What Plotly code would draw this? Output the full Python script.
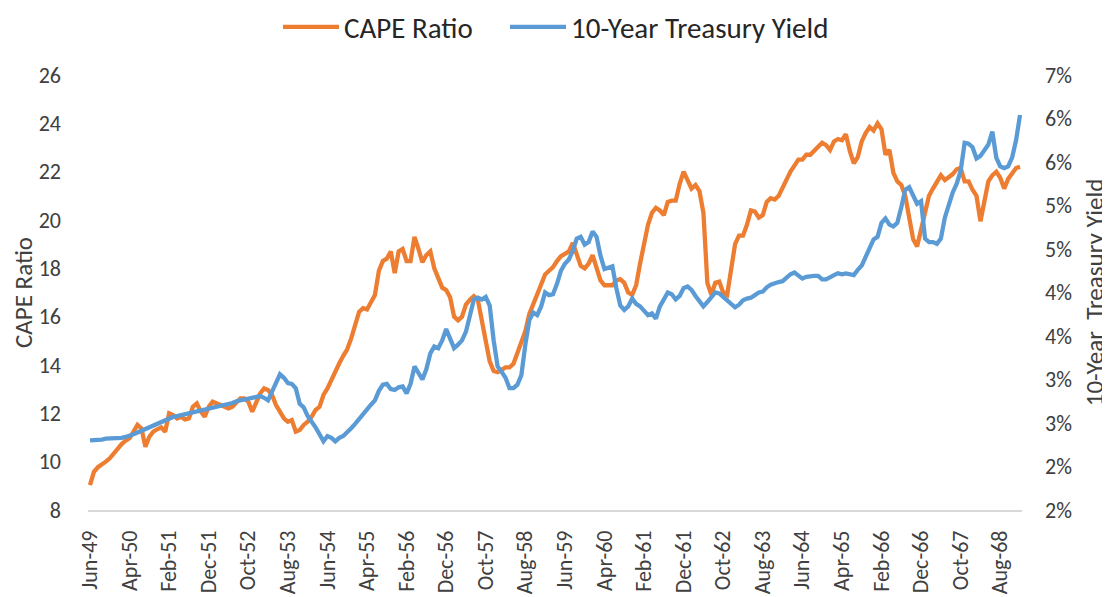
import pandas as pd
import plotly.graph_objects as go

# Monthly observations, Jun-1949 .. Jan-1969
start_month = "1949-06"
n_months = 236

cape_ratio = [
    9.03, 9.58, 9.77, 9.86, 10.00, 10.14, 10.34, 10.55, 10.73, 10.87,
    10.97, 11.24, 11.52, 11.38, 10.62, 11.03, 11.24, 11.34, 11.42, 11.24,
    12.00, 11.93, 11.79, 11.86, 11.75, 11.79, 12.27, 12.41, 12.07, 11.86,
    12.27, 12.48, 12.41, 12.34, 12.27, 12.20, 12.27, 12.48, 12.62, 12.62,
    12.48, 12.07, 12.48, 12.83, 13.03, 12.96, 12.76, 12.34, 12.07, 11.79,
    11.65, 11.72, 11.24, 11.31, 11.52, 11.65, 11.86, 12.14, 12.27, 12.76,
    13.03, 13.38, 13.79, 14.07, 14.38, 14.65, 15.10, 15.70, 16.20, 16.35,
    16.30, 16.60, 16.90, 17.90, 18.30, 18.40, 18.70, 17.80, 18.70, 18.80,
    18.30, 18.30, 19.30, 18.80, 18.25, 18.55, 18.70, 18.00, 17.60, 17.20,
    17.10, 16.80, 16.00, 15.85, 16.00, 16.50, 16.70, 16.85, 16.70, 15.80,
    15.00, 14.15, 13.75, 13.70, 13.80, 13.90, 13.90, 14.05, 14.50, 14.95,
    15.40, 16.10, 16.50, 16.90, 17.30, 17.75, 17.90, 18.05, 18.30, 18.50,
    18.60, 18.70, 19.05, 18.50, 18.10, 18.00, 18.20, 18.55, 18.00, 17.50,
    17.30, 17.30, 17.30, 17.50, 17.55, 17.40, 17.00, 16.90, 17.30, 18.20,
    19.00, 19.80, 20.30, 20.50, 20.40, 20.20, 20.75, 20.80, 20.80, 21.50,
    22.00, 21.60, 21.30, 21.45, 21.20, 20.30, 17.40, 16.90, 17.40, 17.45,
    17.00, 16.90, 17.90, 19.00, 19.35, 19.35, 19.80, 20.40, 20.35, 20.10,
    20.20, 20.75, 20.90, 20.85, 21.00, 21.35, 21.70, 22.00, 22.25, 22.50,
    22.50, 22.70, 22.70, 22.85, 23.05, 23.20, 23.10, 22.90, 23.25, 23.35,
    23.30, 23.55, 22.85, 22.35, 22.60, 23.25, 23.60, 23.85, 23.70, 24.00,
    23.75, 22.70, 22.90, 21.95, 21.60, 21.45, 21.00, 20.00, 19.20, 18.90,
    19.60, 20.30, 21.00, 21.30, 21.60, 21.85, 21.65, 21.75, 21.90, 22.10,
    22.15, 21.60, 21.60, 21.25, 21.00, 19.95, 20.80, 21.60, 21.85, 22.00,
    21.75, 21.30, 21.70, 21.95, 22.15, 22.20,
]

treasury_yield = [
    2.30, 2.30, 2.30, 2.31, 2.32, 2.32, 2.32, 2.32, 2.33, 2.34,
    2.35, 2.37, 2.39, 2.41, 2.43, 2.45, 2.47, 2.49, 2.51, 2.53,
    2.56, 2.57, 2.58, 2.59, 2.61, 2.62, 2.63, 2.64, 2.65, 2.66,
    2.67, 2.68, 2.69, 2.69, 2.70, 2.71, 2.73, 2.75, 2.76, 2.77,
    2.78, 2.79, 2.80, 2.81, 2.79, 2.76, 2.86, 2.97, 3.06, 3.02,
    2.96, 2.95, 2.90, 2.72, 2.68, 2.58, 2.52, 2.45, 2.37, 2.29,
    2.35, 2.33, 2.29, 2.33, 2.35, 2.39, 2.44, 2.49, 2.55, 2.61,
    2.66, 2.71, 2.76, 2.87, 2.94, 2.95, 2.89, 2.88, 2.91, 2.92,
    2.84, 2.95, 3.15, 3.07, 3.00, 3.12, 3.30, 3.38, 3.36, 3.45,
    3.58, 3.47, 3.36, 3.40, 3.45, 3.55, 3.75, 3.92, 3.94, 3.92,
    3.95, 3.85, 3.45, 3.15, 3.09, 3.02, 2.90, 2.90, 2.94, 3.05,
    3.40, 3.68, 3.77, 3.74, 3.84, 4.00, 3.97, 3.98, 4.10, 4.25,
    4.33, 4.38, 4.48, 4.62, 4.64, 4.55, 4.58, 4.70, 4.64, 4.42,
    4.27, 4.28, 4.30, 4.05, 3.85, 3.80, 3.84, 3.93, 3.87, 3.84,
    3.79, 3.74, 3.76, 3.70, 3.84, 3.91, 4.00, 3.98, 3.92, 3.96,
    4.05, 4.07, 4.03, 3.96, 3.90, 3.84, 3.89, 3.95, 4.00, 3.99,
    3.95, 3.91, 3.87, 3.83, 3.86, 3.91, 3.93, 3.94, 3.97, 4.00,
    4.01, 4.06, 4.09, 4.11, 4.12, 4.13, 4.17, 4.21, 4.23, 4.19,
    4.16, 4.18, 4.19, 4.19, 4.19, 4.15, 4.15, 4.18, 4.20, 4.22,
    4.21, 4.22, 4.21, 4.20, 4.26, 4.31, 4.41, 4.50, 4.61, 4.64,
    4.80, 4.85, 4.78, 4.76, 4.80, 4.98, 5.18, 5.21, 5.10, 5.02,
    5.05, 4.62, 4.58, 4.58, 4.56, 4.62, 4.86, 5.00, 5.15, 5.25,
    5.40, 5.72, 5.71, 5.67, 5.54, 5.57, 5.64, 5.70, 5.85, 5.55,
    5.45, 5.43, 5.45, 5.55, 5.75, 6.04,
]

if len(cape_ratio) != n_months or len(treasury_yield) != n_months:
    raise ValueError(f"lengths {len(cape_ratio)} {len(treasury_yield)}")

months = pd.period_range(start=start_month, periods=n_months, freq="M").strftime("%b-%y").tolist()
x_tick_labels = months[::10]

left_ticks = [8, 10, 12, 14, 16, 18, 20, 22, 24, 26]
right_ticks = [1.5, 2.0, 2.5, 3.0, 3.5, 4.0, 4.5, 5.0, 5.5, 6.0, 6.5]
right_tick_text = [f"{int(v + 0.5)}%" for v in right_ticks]

ORANGE = "#ED7D31"
BLUE = "#5B9BD5"
FONT = "Carlito, Calibri, 'Liberation Sans Narrow', 'Liberation Sans', sans-serif"
TXT = "#404040"

# The page body adds an 8px offset, so the figure is 8px smaller than the window.
W, H = 1102, 589

fig = go.Figure()
fig.add_trace(go.Scatter(x=months, y=cape_ratio, name="CAPE Ratio", mode="lines",
                         line=dict(color=ORANGE, width=4.3), legendwidth=156))
fig.add_trace(go.Scatter(x=months, y=treasury_yield, name="10-Year Treasury Yield", mode="lines",
                         line=dict(color=BLUE, width=4.3), yaxis="y2"))

fig.update_layout(
    width=W, height=H,
    margin=dict(l=80, r=88, t=67, b=87, autoexpand=False),
    paper_bgcolor="white", plot_bgcolor="white",
    font=dict(family=FONT, color=TXT, size=22),
    showlegend=True,
    legend=dict(orientation="h", xref="container", yref="container",
                x=270 / W, xanchor="left", y=1 - 19 / H, yanchor="middle",
                font=dict(size=29, color="#262626"), itemwidth=56, traceorder="normal",
                bgcolor="rgba(0,0,0,0)"),
    xaxis=dict(type="category", range=[-0.5, n_months - 0.5], automargin=False,
               tickmode="array", tickvals=x_tick_labels, ticktext=x_tick_labels,
               tickangle=-90, tickfont=dict(size=22, color=TXT),
               showgrid=False, zeroline=False, showline=True, linecolor="#D9D9D9", linewidth=1.5,
               ticks="", ticklabelstandoff=10),
    yaxis=dict(range=[8, 26], tickmode="array", tickvals=left_ticks, automargin=False,
               showgrid=False, zeroline=False, showline=False, ticks="",
               tickfont=dict(size=22, color=TXT), ticklabelstandoff=26,
               title=dict(text="CAPE Ratio", font=dict(size=25, color=TXT), standoff=24)),
    yaxis2=dict(range=[1.5, 6.5], overlaying="y", side="right", tickmode="array", automargin=False,
                tickvals=right_ticks, ticktext=right_tick_text,
                showgrid=False, zeroline=False, showline=False, ticks="",
                tickfont=dict(size=22, color=TXT), ticklabelstandoff=22,
                title=dict(text="10-Year  Treasury Yield", font=dict(size=25, color=TXT), standoff=17)),
)

fig.write_html("out.html")
